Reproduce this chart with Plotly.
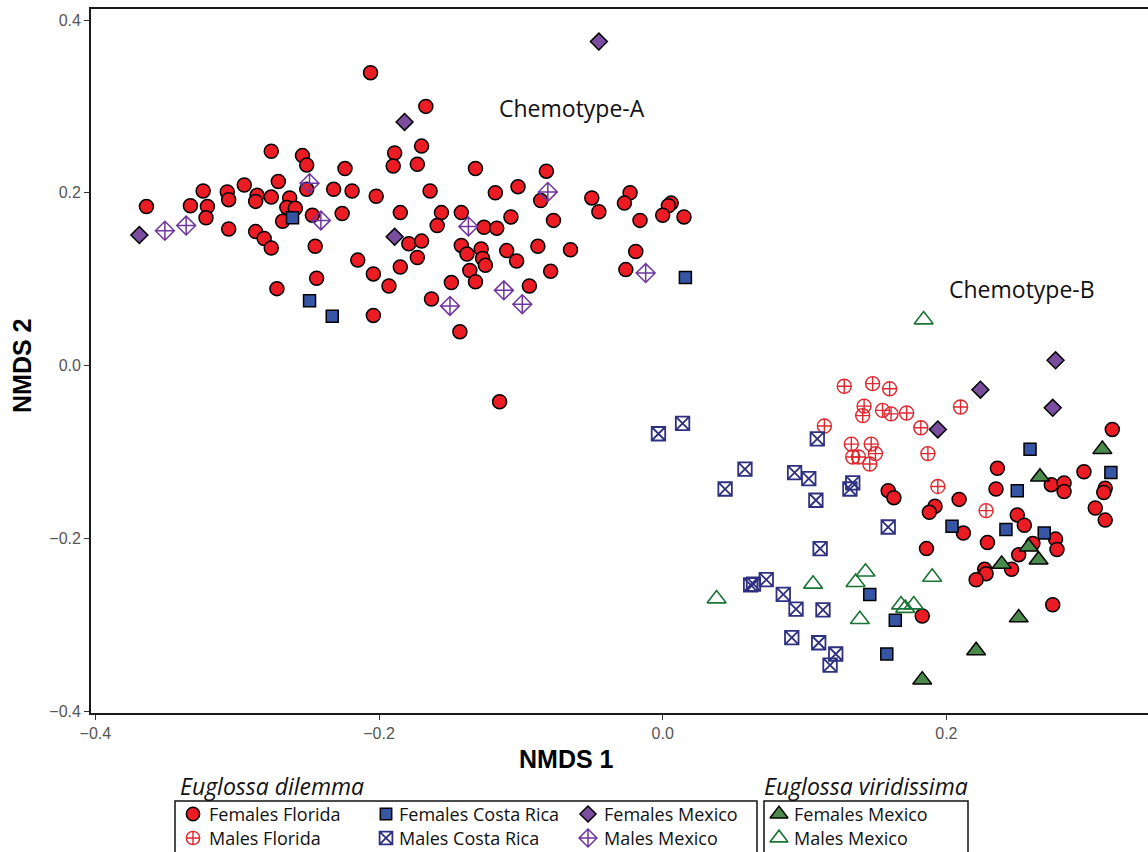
import plotly.graph_objects as go

# ---- NMDS scores -------------------------------------------------------
# Euglossa dilemma, females, Florida
ff_x = [
    -0.364, -0.333, -0.324, -0.321, -0.322, -0.307, -0.306, -0.306, -0.295, -0.286,
    -0.287, -0.276, -0.287, -0.281, -0.276, -0.276, -0.271, -0.263, -0.265, -0.259,
    -0.268, -0.254, -0.251, -0.251, -0.247, -0.245, -0.244, -0.272, -0.232, -0.226,
    -0.219, -0.224, -0.202, -0.215, -0.204, -0.193, -0.206, -0.189, -0.190, -0.185,
    -0.185, -0.204, -0.167, -0.170, -0.173, -0.164, -0.179, -0.170, -0.173, -0.156,
    -0.142, -0.159, -0.132, -0.126, -0.117, -0.107, -0.118, -0.102, -0.082, -0.086,
    -0.077, -0.142, -0.138, -0.128, -0.127, -0.125, -0.136, -0.132, -0.110, -0.103,
    -0.088, -0.065, -0.079, -0.094, -0.149, -0.163, -0.143, -0.050, -0.045, -0.023,
    -0.027, -0.016, 0.006, 0.004, 0.000, 0.015, -0.019, -0.026, -0.115,
    0.159, 0.163, 0.317, 0.236, 0.297, 0.274, 0.283, 0.283, 0.235, 0.209,
    0.192, 0.188, 0.250, 0.255, 0.312, 0.311, 0.305, 0.312, 0.212, 0.229,
    0.186, 0.261, 0.277, 0.278, 0.251, 0.227, 0.228, 0.221, 0.246, 0.275,
    0.183,
]
ff_y = [
    0.184, 0.185, 0.202, 0.184, 0.171, 0.201, 0.192, 0.158, 0.209, 0.197,
    0.190, 0.195, 0.155, 0.147, 0.136, 0.248, 0.213, 0.194, 0.183, 0.182,
    0.167, 0.243, 0.232, 0.204, 0.174, 0.138, 0.101, 0.089, 0.204, 0.176,
    0.202, 0.228, 0.196, 0.122, 0.106, 0.092, 0.339, 0.246, 0.231, 0.177,
    0.114, 0.058, 0.300, 0.254, 0.233, 0.202, 0.141, 0.144, 0.125, 0.177,
    0.177, 0.162, 0.228, 0.160, 0.159, 0.172, 0.200, 0.207, 0.225, 0.191,
    0.168, 0.139, 0.129, 0.135, 0.124, 0.116, 0.110, 0.097, 0.133, 0.121,
    0.138, 0.134, 0.109, 0.092, 0.096, 0.077, 0.039, 0.194, 0.178, 0.200,
    0.188, 0.168, 0.188, 0.185, 0.174, 0.172, 0.132, 0.111, -0.042,
    -0.145, -0.153, -0.074, -0.119, -0.123, -0.138, -0.136, -0.146, -0.143, -0.155,
    -0.163, -0.170, -0.173, -0.185, -0.142, -0.147, -0.165, -0.179, -0.194, -0.205,
    -0.212, -0.206, -0.201, -0.213, -0.219, -0.236, -0.241, -0.248, -0.236, -0.277,
    -0.290,
]

# Euglossa dilemma, males, Florida
mf_x = [0.128, 0.148, 0.160, 0.142, 0.141, 0.155, 0.161, 0.172, 0.182, 0.114,
        0.133, 0.147, 0.134, 0.138, 0.150, 0.146, 0.210, 0.187, 0.194, 0.228]
mf_y = [-0.024, -0.021, -0.027, -0.047, -0.058, -0.052, -0.056, -0.055, -0.072, -0.070,
        -0.091, -0.091, -0.106, -0.106, -0.102, -0.114, -0.048, -0.102, -0.140, -0.168]

# Euglossa dilemma, females, Costa Rica
fc_x = [-0.261, -0.249, -0.233, 0.016, 0.259, 0.316, 0.250, 0.204, 0.242, 0.269,
        0.146, 0.164, 0.158]
fc_y = [0.171, 0.075, 0.057, 0.102, -0.097, -0.124, -0.145, -0.186, -0.190, -0.194,
        -0.265, -0.295, -0.334]

# Euglossa dilemma, males, Costa Rica
mc_x = [0.014, -0.003, 0.058, 0.044, 0.093, 0.103, 0.109, 0.108, 0.134, 0.132,
        0.159, 0.111, 0.073, 0.062, 0.064, 0.085, 0.094, 0.113, 0.091, 0.110,
        0.122, 0.118]
mc_y = [-0.067, -0.079, -0.120, -0.143, -0.124, -0.131, -0.085, -0.156, -0.136, -0.143,
        -0.187, -0.212, -0.248, -0.254, -0.253, -0.265, -0.282, -0.283, -0.315, -0.321,
        -0.334, -0.347]

# Euglossa dilemma, females, Mexico
fm_x = [-0.369, -0.189, -0.182, -0.045, 0.277, 0.224, 0.275, 0.194]
fm_y = [0.151, 0.149, 0.282, 0.375, 0.006, -0.028, -0.049, -0.074]

# Euglossa dilemma, males, Mexico
mm_x = [-0.351, -0.336, -0.249, -0.241, -0.137, -0.081, -0.150, -0.112, -0.099, -0.012]
mm_y = [0.156, 0.162, 0.211, 0.168, 0.161, 0.201, 0.069, 0.087, 0.071, 0.107]

# Euglossa viridissima, females, Mexico
vf_x = [0.310, 0.266, 0.258, 0.239, 0.265, 0.251, 0.221, 0.183]
vf_y = [-0.097, -0.129, -0.210, -0.230, -0.225, -0.292, -0.330, -0.364]

# Euglossa viridissima, males, Mexico
vm_x = [0.184, 0.038, 0.106, 0.143, 0.136, 0.190, 0.139, 0.168, 0.177, 0.171]
vm_y = [0.053, -0.270, -0.253, -0.239, -0.251, -0.245, -0.294, -0.277, -0.277, -0.281]

x_ticks = [-0.4, -0.2, 0.0, 0.2]
y_ticks = [-0.4, -0.2, 0.0, 0.2, 0.4]

# ---- styling ------------------------------------------------------------
RED = "#ec1c24"
RED_OPEN = "#e0262e"
BLUE = "#3656a5"
NAVY = "#2e3080"
PURPLE = "#7a4d9f"
PURPLE_OPEN = "#7036a0"
GREEN = "#4a8b4c"
GREEN_OPEN = "#1a7434"

W, H = 1148, 852
TEXT_FONT = "Open Sans"
AXIS_FONT = "Liberation Sans, Arial, sans-serif"

styles = {
    "ff": dict(symbol="circle", size=14, color=RED, line=dict(color="black", width=1.5)),
    "mf": dict(symbol="circle-cross-open", size=14, color=RED_OPEN, line=dict(color=RED_OPEN, width=1.4)),
    "fc": dict(symbol="square", size=12, color=BLUE, line=dict(color="black", width=1.5)),
    "mc": dict(symbol="square-x-open", size=13.5, color=NAVY, line=dict(color=NAVY, width=1.8)),
    "fm": dict(symbol="diamond", size=13, color=PURPLE, line=dict(color="black", width=1.5)),
    "mm": dict(symbol="diamond-cross-open", size=14.5, color=PURPLE_OPEN, line=dict(color=PURPLE_OPEN, width=1.5)),
    "vf": dict(symbol="triangle-up", size=16.5, color=GREEN, line=dict(color="black", width=1.5)),
    "vm": dict(symbol="triangle-up-open", size=16.5, color=GREEN_OPEN, line=dict(color=GREEN_OPEN, width=1.6)),
}

groups = [
    ("ff", ff_x, ff_y, "Females Florida"),
    ("mf", mf_x, mf_y, "Males Florida"),
    ("fc", fc_x, fc_y, "Females Costa Rica"),
    ("mc", mc_x, mc_y, "Males Costa Rica"),
    ("fm", fm_x, fm_y, "Females Mexico"),
    ("mm", mm_x, mm_y, "Males Mexico"),
    ("vf", vf_x, vf_y, "Females Mexico"),
    ("vm", vm_x, vm_y, "Males Mexico"),
]

fig = go.Figure()
for key, xs, ys, name in groups:
    fig.add_trace(go.Scatter(
        x=xs, y=ys, mode="markers", name=name, marker=styles[key],
        xaxis="x", yaxis="y", showlegend=False, cliponaxis=False,
    ))

# ---- legend, drawn on a pixel-space overlay --------------------------------
legend_rows = [814, 838]
legend_items = [
    ("ff", 193, 208, 0), ("mf", 193, 208, 1),
    ("fc", 386, 398, 0), ("mc", 386, 398, 1),
    ("fm", 588, 603, 0), ("mm", 588, 603, 1),
    ("vf", 779, 793, 0), ("vm", 779, 793, 1),
]
names = {k: n for k, _, _, n in groups}

annotations = []
for key, mx, tx, row in legend_items:
    st = dict(styles[key])
    st["size"] = st["size"] * 0.95
    fig.add_trace(go.Scatter(
        x=[mx], y=[legend_rows[row]], mode="markers", marker=st,
        xaxis="x2", yaxis="y2", showlegend=False, hoverinfo="skip", cliponaxis=False,
    ))
    annotations.append(dict(
        x=tx, y=legend_rows[row], xref="x2", yref="y2", text=names[key],
        showarrow=False, xanchor="left", yanchor="middle", borderpad=0,
        font=dict(family=TEXT_FONT, size=18, color="#111"),
    ))

annotations += [
    dict(x=179, y=786, xref="x2", yref="y2", text="<i>Euglossa dilemma</i>",
         showarrow=False, xanchor="left", yanchor="middle", borderpad=0,
         font=dict(family=TEXT_FONT, size=23, color="#111")),
    dict(x=763, y=786, xref="x2", yref="y2", text="<i>Euglossa viridissima</i>",
         showarrow=False, xanchor="left", yanchor="middle", borderpad=0,
         font=dict(family=TEXT_FONT, size=23, color="#111")),
    dict(x=566, y=759, xref="x2", yref="y2", text="<b>NMDS 1</b>",
         showarrow=False, xanchor="center", yanchor="middle",
         font=dict(family=AXIS_FONT, size=25, color="black")),
    dict(x=22, y=366, xref="x2", yref="y2", text="<b>NMDS 2</b>", textangle=-90,
         showarrow=False, xanchor="center", yanchor="middle",
         font=dict(family=AXIS_FONT, size=25, color="black")),
    dict(x=-0.064, y=0.298, xref="x", yref="y", text="Chemotype-A",
         showarrow=False, xanchor="center", yanchor="middle",
         font=dict(family=TEXT_FONT, size=23, color="#111")),
    dict(x=0.2534, y=0.0886, xref="x", yref="y", text="Chemotype-B",
         showarrow=False, xanchor="center", yanchor="middle",
         font=dict(family=TEXT_FONT, size=23, color="#111")),
]

shapes = [
    dict(type="rect", xref="x2", yref="y2", x0=175, x1=757, y0=801, y1=880,
         line=dict(color="#111", width=1.5)),
    dict(type="rect", xref="x2", yref="y2", x0=764, x1=968, y0=801, y1=880,
         line=dict(color="#111", width=1.5)),
]

# plot-area geometry in pixels
left, right, top, bottom = 91, 1148, 9.3, 713.3
x0_px, x_scale = 662.7, 1418.3     # pixel of x = 0, pixels per unit
y0_px, y_scale = 365.5, 863.75

fig.update_layout(
    width=W, height=H, autosize=False,
    margin=dict(l=0, r=0, t=0, b=0, pad=0, autoexpand=False),
    paper_bgcolor="white", plot_bgcolor="rgba(0,0,0,0)",
    showlegend=False,
    annotations=annotations,
    shapes=shapes,
    xaxis=dict(
        domain=[left / W, right / W],
        range=[(left - x0_px) / x_scale, (right - x0_px) / x_scale],
        tickvals=x_ticks, tickformat=".1f",
        ticks="outside", ticklen=5, tickwidth=1.2, tickcolor="#333",
        tickfont=dict(family=AXIS_FONT, size=16, color="#555"),
        showline=True, linecolor="#1a1a1a", linewidth=1.8, mirror=True,
        showgrid=False, zeroline=False, anchor="y", automargin=False,
    ),
    yaxis=dict(
        domain=[(H - bottom) / H, (H - top) / H],
        range=[(y0_px - bottom) / y_scale, (y0_px - top) / y_scale],
        tickvals=y_ticks, tickformat=".1f",
        ticks="outside", ticklen=5, tickwidth=1.2, tickcolor="#333",
        tickfont=dict(family=AXIS_FONT, size=16, color="#555"),
        showline=True, linecolor="#1a1a1a", linewidth=1.8, mirror=False,
        showgrid=False, zeroline=False, anchor="x", automargin=False,
    ),
    xaxis2=dict(domain=[0, 1], range=[0, W], visible=False, anchor="y2",
                fixedrange=True, automargin=False),
    yaxis2=dict(domain=[0, 1], range=[H, 0], visible=False, anchor="x2",
                fixedrange=True, automargin=False),
)

fig.write_html("out.html", config={"responsive": False})
